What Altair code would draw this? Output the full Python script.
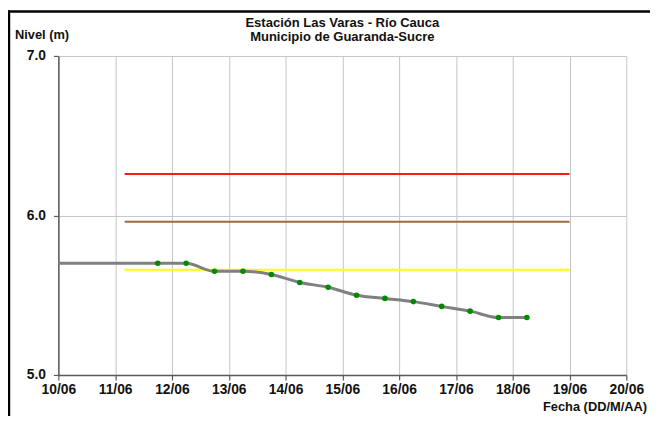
import altair as alt
import pandas as pd

# ---- data ----
point_times = [
    "2011-06-11T18:00:00", "2011-06-12T06:00:00", "2011-06-12T18:00:00",
    "2011-06-13T06:00:00", "2011-06-13T18:00:00", "2011-06-14T06:00:00",
    "2011-06-14T18:00:00", "2011-06-15T06:00:00", "2011-06-15T18:00:00",
    "2011-06-16T06:00:00", "2011-06-16T18:00:00", "2011-06-17T06:00:00",
    "2011-06-17T18:00:00", "2011-06-18T06:00:00",
]
point_levels = [5.70, 5.70, 5.65, 5.65, 5.63, 5.58, 5.55, 5.50, 5.48, 5.46, 5.43, 5.40, 5.36, 5.36]

line_times = ["2011-06-10T00:00:00"] + point_times
line_levels = [5.70] + point_levels

thr_names = ["Roja", "Naranja", "Amarilla"]
thr_levels = [6.26, 5.96, 5.66]
thr_colors = ["#ff1a1a", "#9c6b3c", "#ffff00"]
thr_start = "2011-06-11T04:00:00"
thr_end = "2011-06-19T00:00:00"

day_numbers = list(range(10, 21))
y_ticks = [5, 6, 7]

title_lines = ["Estación Las Varas - Río Cauca", "Municipio de Guaranda-Sucre"]
y_title = "Nivel (m)"
x_title = "Fecha (DD/M/AA)"

# ---- tables ----
line_df = pd.DataFrame({"t": line_times, "nivel": line_levels})
pts_df = pd.DataFrame({"t": point_times, "nivel": point_levels})
thr_df = pd.DataFrame({
    "nombre": thr_names, "nivel": thr_levels, "color": thr_colors,
    "ini": [thr_start] * 3, "fin": [thr_end] * 3,
})

FONT = "Liberation Sans"
W, H = 575, 323

x_scale = alt.Scale(
    domain=[alt.DateTime(year=2011, month=6, date=10), alt.DateTime(year=2011, month=6, date=20)],
    nice=False,
)
y_scale = alt.Scale(domain=[5, 7], nice=False, zero=False)

x_axis = alt.Axis(
    values=[alt.DateTime(year=2011, month=6, date=d) for d in day_numbers],
    format="%d/%m", title=None, grid=True, gridColor="#c4c4c4", gridWidth=1,
    domainColor="#5a5a5a", domainWidth=1.5, tickColor="#5a5a5a", tickSize=5, tickWidth=1.2,
    labelFont=FONT, labelFontSize=14, labelFontWeight="bold", labelColor="#111111",
    labelPadding=3, labelFlush=False, labelOverlap=False,
)
y_axis = alt.Axis(
    values=y_ticks, format=".1f", title=None, grid=True, gridColor="#c4c4c4", gridWidth=1,
    domainColor="#5a5a5a", domainWidth=1.5, tickColor="#5a5a5a", tickSize=5, tickWidth=1.2,
    labelFont=FONT, labelFontSize=14, labelFontWeight="bold", labelColor="#111111",
    labelPadding=8,
)

base_x = alt.X("t:T", scale=x_scale, axis=x_axis)
base_y = alt.Y("nivel:Q", scale=y_scale, axis=y_axis)

thr = alt.Chart(thr_df).mark_rule(strokeWidth=2).encode(
    x=alt.X("ini:T", scale=x_scale, axis=x_axis),
    x2="fin:T",
    y=alt.Y("nivel:Q", scale=y_scale, axis=y_axis),
    color=alt.Color("color:N", scale=None),
)

line = alt.Chart(line_df).mark_line(color="#808080", strokeWidth=3, interpolate="monotone").encode(
    x=base_x, y=base_y
)

pts = alt.Chart(pts_df).mark_circle(color="#008a00", size=32, opacity=1).encode(
    x=base_x, y=base_y
)

# titles / labels as text marks
t1 = alt.Chart(pd.DataFrame({"s": [title_lines[0]]})).mark_text(
    font=FONT, fontSize=13.2, fontWeight="bold", align="center", baseline="middle", color="#111111"
).encode(x=alt.value(W / 2), y=alt.value(-33), text="s:N")
t2 = alt.Chart(pd.DataFrame({"s": [title_lines[1]]})).mark_text(
    font=FONT, fontSize=13.2, fontWeight="bold", align="center", baseline="middle", color="#111111"
).encode(x=alt.value(W / 2), y=alt.value(-19), text="s:N")
ty = alt.Chart(pd.DataFrame({"s": [y_title]})).mark_text(
    font=FONT, fontSize=13, fontWeight="bold", align="left", baseline="middle", color="#111111"
).encode(x=alt.value(-44), y=alt.value(-21), text="s:N")
tx = alt.Chart(pd.DataFrame({"s": [x_title]})).mark_text(
    font=FONT, fontSize=13, fontWeight="bold", align="right", baseline="middle", color="#111111"
).encode(x=alt.value(596), y=alt.value(355), text="s:N")

# outer frame (left and top edges)
frame_l = alt.Chart(pd.DataFrame({"k": [0]})).mark_rule(color="#000000", strokeWidth=2.5).encode(
    x=alt.value(-50), y=alt.value(-46), y2=alt.value(H + 45)
)
frame_t = alt.Chart(pd.DataFrame({"k": [0]})).mark_rule(color="#000000", strokeWidth=2.5).encode(
    x=alt.value(-51), x2=alt.value(W + 30), y=alt.value(-45)
)

chart = alt.layer(thr, line, pts, t1, t2, ty, tx, frame_l, frame_t).properties(
    width=W, height=H,
    autosize=alt.AutoSizeParams(type="none"),
    padding={"left": 51, "top": 46, "right": 24, "bottom": 39},
    background="#ffffff",
).configure_view(strokeWidth=0)

chart.save("out.html", embed_options={"renderer": "svg", "actions": False})
